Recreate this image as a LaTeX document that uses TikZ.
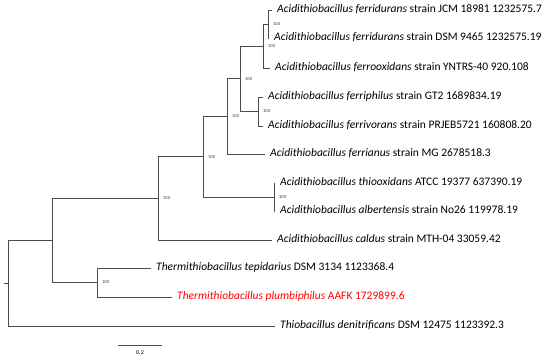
\documentclass[tikz,border=0pt]{standalone}
\usepackage{fontspec}
\setmainfont{Carlito}
\begin{document}
\begin{tikzpicture}[x=1pt,y=-1pt,
  br/.style={draw=black!70,line width=0.8pt},
  leaf/.style={anchor=west,inner sep=0pt,xshift=5pt,font=\fontsize{11.5}{13}\selectfont,text height=8pt,text depth=2.5pt},
  boot/.style={anchor=west,inner sep=0pt,xshift=5pt,font=\fontsize{4.5}{5}\selectfont,text=black!80},
]
\useasboundingbox (0,0) rectangle (550,360);
% leaf ends
\coordinate (l1) at (272,10);
\coordinate (l2) at (269,38);
\coordinate (l3) at (270,68);
\coordinate (l4) at (263,97);
\coordinate (l5) at (263,126);
\coordinate (l6) at (265,154);
\coordinate (l7) at (275,183);
\coordinate (l8) at (275,211);
\coordinate (l9) at (272,240);
\coordinate (l10) at (151,268);
\coordinate (l11) at (172,297);
\coordinate (l12) at (275,326);
% internal nodes
\coordinate (na) at (268,24);
\coordinate (nb) at (263,46);
\coordinate (nc) at (258,111.5);
\coordinate (nd) at (240,78.8);
\coordinate (ne) at (227,116.4);
\coordinate (nf) at (274,197);
\coordinate (ng) at (203,156.7);
\coordinate (nh) at (158,198.3);
\coordinate (ni) at (97,282.5);
\coordinate (nj) at (52,240.4);
\coordinate (root) at (8,283.2);
\coordinate (stub) at (4,283.2);
% branches
\draw[br] (na) |- (l1); \draw[br] (na) |- (l2);
\draw[br] (nb) |- (na); \draw[br] (nb) |- (l3);
\draw[br] (nc) |- (l4); \draw[br] (nc) |- (l5);
\draw[br] (nd) |- (nb); \draw[br] (nd) |- (nc);
\draw[br] (ne) |- (nd); \draw[br] (ne) |- (l6);
\draw[br] (nf) |- (l7); \draw[br] (nf) |- (l8);
\draw[br] (ng) |- (ne); \draw[br] (ng) |- (nf);
\draw[br] (nh) |- (ng); \draw[br] (nh) |- (l9);
\draw[br] (ni) |- (l10); \draw[br] (ni) |- (l11);
\draw[br] (nj) |- (nh); \draw[br] (nj) |- (ni);
\draw[br] (root) |- (nj); \draw[br] (root) |- (l12);
\draw[br] (stub) -- (root);
% bootstrap labels
\node[boot] (ba) at (na) {100};
\node[boot] (bb) at (nb) {100};
\node[boot] (bc) at (nc) {100};
\node[boot] (bd) at (nd) {100};
\node[boot] (be) at (ne) {100};
\node[boot] (bf) at (nf) {100};
\node[boot] (bg) at (ng) {100};
\node[boot] (bh) at (nh) {100};
\node[boot] (bi) at (ni) {100};
% leaf labels
\node[leaf] (t1) at (l1) {\textit{Acidithiobacillus ferridurans} strain JCM 18981 1232575.7};
\node[leaf] (t2) at (l2) {\textit{Acidithiobacillus ferridurans} strain DSM 9465 1232575.19};
\node[leaf] (t3) at (l3) {\textit{Acidithiobacillus ferrooxidans} strain YNTRS-40 920.108};
\node[leaf] (t4) at (l4) {\textit{Acidithiobacillus ferriphilus} strain GT2 1689834.19};
\node[leaf] (t5) at (l5) {\textit{Acidithiobacillus ferrivorans} strain PRJEB5721 160808.20};
\node[leaf] (t6) at (l6) {\textit{Acidithiobacillus ferrianus} strain MG 2678518.3};
\node[leaf] (t7) at (l7) {\textit{Acidithiobacillus thiooxidans} ATCC 19377 637390.19};
\node[leaf] (t8) at (l8) {\textit{Acidithiobacillus albertensis} strain No26 119978.19};
\node[leaf] (t9) at (l9) {\textit{Acidithiobacillus caldus} strain MTH-04 33059.42};
\node[leaf] (t10) at (l10) {\textit{Thermithiobacillus tepidarius} DSM 3134 1123368.4};
\node[leaf,text=red] (t11) at (l11) {\textit{Thermithiobacillus plumbiphilus} AAFK 1729899.6};
\node[leaf] (t12) at (l12) {\textit{Thiobacillus denitrificans} DSM 12475 1123392.3};
% scale bar
\coordinate (s1) at (118,345);
\coordinate (s2) at (162,345);
\draw[br] (s1) -- (s2);
\node[font=\fontsize{6}{7}\selectfont,inner sep=0pt,anchor=north] (sl) at (140,350) {0.2};
\end{tikzpicture}
\end{document}
